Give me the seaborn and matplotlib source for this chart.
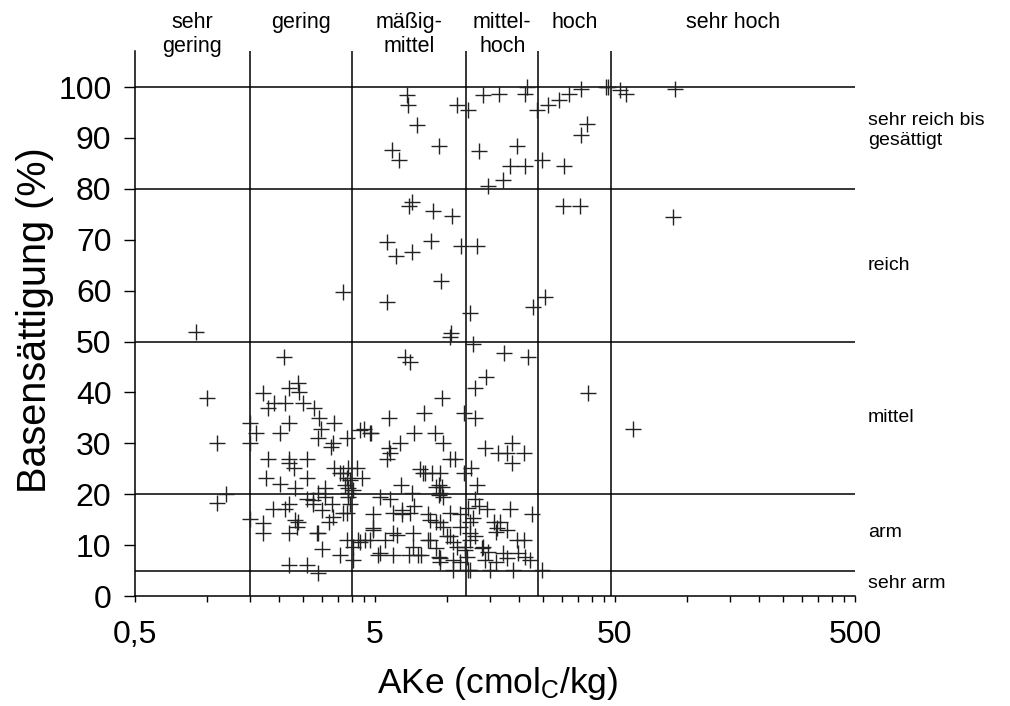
import numpy as np
import pandas as pd
import matplotlib
matplotlib.use("Agg")
import matplotlib.pyplot as plt
import matplotlib.ticker as mticker
import seaborn as sns

# AKe (cmolc/kg) and Basensättigung (%) of the samples
ake = [
    6.78, 6.88, 7.46, 5.9, 6.3, 9.27, 10.95, 12.2, 14.1, 13.6, 14.8, 7.1, 6.9, 8.75, 10.5,
    5.6, 6.1, 7.1, 8.55, 11.4, 13.3, 9.4, 3.69, 5.6, 12.4, 10.4, 10.3, 0.90, 12.8,
    16.5, 21.1, 21.5, 23.6, 26.4, 29.2, 32.3, 36.0, 45.9, 46.9, 52.5, 55.4, 88.9, 38.3, 36.0,
    19.5, 18.3, 21.0, 24.8, 30.7, 17.0, 30.5, 35.7, 87.0, 25.5, 22.7,
    2.09, 1.0, 1.7, 2.2, 2.39, 2.42, 1.9, 1.79, 2.1, 2.5, 2.79, 2.92, 1.5, 2.2, 3.38, 1.59,
    2.01, 2.98, 2.9, 3.35, 3.28, 3.81, 4.33, 4.76, 1.10, 1.5, 1.79, 2.2, 2.6, 2.2, 2.3, 3.38,
    3.58, 3.87, 4.19, 3.81, 4.4, 1.76, 2.01, 2.6, 2.32, 3.1, 3.87, 3.87, 2.9, 1.2, 1.10, 1.88,
    2.2, 2.1, 2.6, 2.75, 3.0, 3.3, 3.93, 3.69, 3.35, 1.5, 1.7, 1.7, 2.32, 2.39, 2.2, 2.86,
    3.0, 3.58, 3.81, 4.26, 4.76, 4.06, 4.92, 4.92, 2.2, 2.6, 2.9, 5.16,
    6.67, 7.0, 17.3, 21.8, 14.5, 13.0, 9.5, 8.0, 5.7, 11.7, 13.1, 4.5, 4.8, 7.3, 8.9, 9.6,
    6.35, 5.7, 5.8, 5.6, 14.35, 16.2, 18.6, 17.7, 20.8, 18.6, 10.3, 10.8, 7.7, 8.1, 9.3, 11.7,
    12.6, 6.4, 9.2, 13.3, 7.1, 9.3, 5.8, 13.1, 6.46, 8.3, 11.3, 14.6, 18.3, 22.5, 9.0, 12.8,
    16.6, 16.1, 5.96, 7.2, 8.5, 9.95, 12.4, 19.5, 20.8, 4.54, 5.96, 6.9, 7.8, 9.2, 10.95, 11.9,
    14.1, 10.6, 14.35, 17.7, 21.1, 10.6, 12.2, 15.1, 18.8, 24.8, 9.3, 12.4, 7.55,
    38.5, 59.6,
    7.9, 8.6, 9.0, 9.5, 9.2, 9.6, 8.5, 9.3, 9.6, 8.3, 9.0, 9.3, 11.3, 11.9, 12.1, 12.4,
    13.1, 14.0, 14.8, 15.9, 17.1, 19.8, 22.2, 10.3, 10.6, 7.2, 5.24, 4.9, 5.5, 6.2, 7.0, 7.3,
    5.96, 5.24, 6.46, 10.3, 11.3, 12.4, 15.6, 15.9, 17.7, 13.5, 12.2,
    3.69, 3.93, 3.75, 4.06, 3.87, 3.1, 3.23, 3.81, 4.06, 4.33, 2.76, 2.36, 2.9,
]
basen = [
    98.4, 96.5, 92.5, 87.6, 85.7, 88.5, 96.5, 95.5, 98.4, 87.5, 80.5, 77.5, 76.6, 75.6, 74.7,
    69.6, 66.8, 67.6, 69.7, 68.8, 68.8, 61.8, 59.8, 57.8, 55.7, 51.6, 50.9, 51.8, 49.6,
    98.6, 98.6, 100.0, 95.5, 96.5, 97.4, 98.6, 99.7, 100.0, 100.0, 99.4, 98.6, 99.7, 92.7, 90.6,
    88.5, 84.5, 84.5, 85.7, 84.5, 81.7, 76.6, 76.6, 74.5, 58.8, 56.7,
    46.9, 39.0, 39.9, 40.9, 41.9, 40.1, 38.0, 37.0, 38.0, 38.0, 36.9, 34.9, 33.9, 33.9, 33.9, 32.0,
    32.0, 32.9, 31.0, 30.0, 29.2, 31.0, 32.7, 32.0, 30.0, 30.0, 27.0, 27.0, 27.0, 26.1, 25.1, 25.1,
    24.1, 25.1, 25.1, 23.1, 23.2, 23.2, 22.1, 23.2, 21.2, 21.2, 21.2, 20.2, 20.2, 20.0, 18.2, 17.0,
    18.0, 17.0, 19.0, 18.0, 16.8, 18.0, 18.0, 16.4, 15.6, 15.1, 14.3, 12.3, 14.9, 14.6, 12.3, 12.3,
    9.2, 8.1, 11.0, 11.0, 11.1, 7.1, 16.1, 13.0, 6.0, 6.0, 4.5, 8.1,
    46.9, 46.0, 47.8, 46.9, 43.0, 40.9, 39.0, 36.0, 34.9, 36.0, 34.9, 32.9, 32.0, 32.0, 32.0, 30.0,
    30.0, 29.0, 28.0, 27.0, 29.0, 28.0, 30.0, 28.0, 28.0, 26.1, 27.0, 27.0, 24.9, 24.1, 24.1, 24.1,
    25.1, 21.9, 21.9, 21.9, 20.2, 20.2, 19.0, 19.0, 16.1, 16.1, 16.1, 17.0, 17.0, 16.1, 14.6, 15.3,
    14.6, 13.3, 12.3, 12.3, 11.1, 11.7, 12.3, 11.1, 11.1, 11.1, 8.1, 8.1, 8.1, 7.6, 9.7, 9.7,
    9.7, 7.1, 7.1, 7.4, 7.7, 5.2, 5.2, 5.1, 5.1, 5.2, 6.7, 5.1, 8.1,
    39.9, 32.9,
    24.1, 24.1, 21.5, 21.5, 19.8, 19.5, 14.9, 14.6, 13.6, 11.0, 9.4, 7.4, 6.7, 9.0, 7.7, 11.0,
    11.7, 9.4, 8.7, 6.7, 8.4, 8.4, 7.0, 11.7, 10.7, 9.7, 8.4, 13.3, 11.0, 12.0, 16.3, 17.6,
    16.3, 19.5, 16.9, 16.3, 13.6, 14.6, 14.6, 12.6, 13.0, 17.6, 17.2,
    24.1, 22.8, 21.8, 20.8, 19.5, 19.5, 14.6, 16.3, 9.7, 10.7, 18.9, 13.6, 12.3,
]

# class boundaries
ake_limits = [1.5, 4, 12, 24, 48]
ake_classes = ["sehr\ngering", "gering", "mäßig-\nmittel", "mittel-\nhoch", "hoch", "sehr hoch"]
bs_limits = [5, 20, 50, 80, 100]
bs_classes = ["sehr arm", "arm", "mittel", "reich", "sehr reich bis\ngesättigt"]

x_major = [0.5, 5, 50, 500]
x_major_labels = ["0,5", "5", "50", "500"]
y_ticks = list(range(0, 101, 10))

sns.set_theme(style="white")
plt.rcParams["font.family"] = ["Liberation Sans", "DejaVu Sans"]
plt.rcParams["mathtext.default"] = "regular"
plt.rcParams["text.color"] = "black"
plt.rcParams["axes.labelcolor"] = "black"
plt.rcParams["xtick.color"] = "black"
plt.rcParams["ytick.color"] = "black"

df = pd.DataFrame({"AKe": ake, "BS": basen})

fig = plt.figure(figsize=(10.10, 7.06), dpi=100)
ax = fig.add_axes([135 / 1010, 110 / 706, 720 / 1010, 544.6 / 706])

sns.scatterplot(data=df, x="AKe", y="BS", marker="+", s=120, color="#222222",
                linewidth=1.0, ax=ax, legend=False, zorder=3)

ax.set_xscale("log")
ax.set_xlim(0.5, 500)
ax.set_ylim(0, 107)

for xv in ake_limits:
    ax.axvline(xv, color="black", lw=1.1, zorder=2)
for yv in bs_limits:
    ax.axhline(yv, color="black", lw=1.1, zorder=2)

# axis ticks
ax.xaxis.set_major_locator(mticker.FixedLocator(x_major))
ax.xaxis.set_major_formatter(mticker.FixedFormatter(x_major_labels))
minor = [m * k for m in x_major[:-1] for k in range(2, 10)]
ax.xaxis.set_minor_locator(mticker.FixedLocator(minor))
ax.xaxis.set_minor_formatter(mticker.NullFormatter())
ax.set_yticks(y_ticks)

ax.tick_params(axis="x", which="both", direction="out", length=4, width=1,
               color="black", labelcolor="black", bottom=True, labelsize=23, pad=13)
ax.tick_params(axis="y", which="major", direction="out", length=8, width=1,
               color="black", labelcolor="black", left=True, labelsize=23, pad=9)

for side in ["top", "right"]:
    ax.spines[side].set_visible(False)
for side in ["left", "bottom"]:
    ax.spines[side].set_color("black")
    ax.spines[side].set_linewidth(1.1)

ax.set_xlabel(r"AKe (cmol$_{C}$/kg)", fontsize=25.5, color="black")
ax.set_ylabel("Basensättigung (%)", fontsize=28.5, color="black")
ax.xaxis.set_label_coords(0.504, -0.16)
ax.xaxis.label.set_va("center")
ax.yaxis.set_label_coords(-0.139, 0.507)
ax.yaxis.label.set_va("center")

# class names along the top
edges = [0.5] + ake_limits + [500]
for lo, hi, name in zip(edges[:-1], edges[1:], ake_classes):
    xc = np.sqrt(lo * hi)
    ax.text(xc, 1.072, name, transform=ax.get_xaxis_transform(), ha="center", va="top",
            fontsize=15.5, linespacing=1.15, color="black", clip_on=False)

# class names on the right
bedges = [0] + bs_limits
for lo, hi, name in zip(bedges[:-1], bedges[1:], bs_classes):
    yc = (lo + hi) / 2
    if "\n" in name:
        yc += 1.5
    ax.text(1.018, yc, name, transform=ax.get_yaxis_transform(), ha="left", va="center",
            fontsize=14, linespacing=1.25, color="black", clip_on=False)

fig.savefig("out.png", dpi=100)
